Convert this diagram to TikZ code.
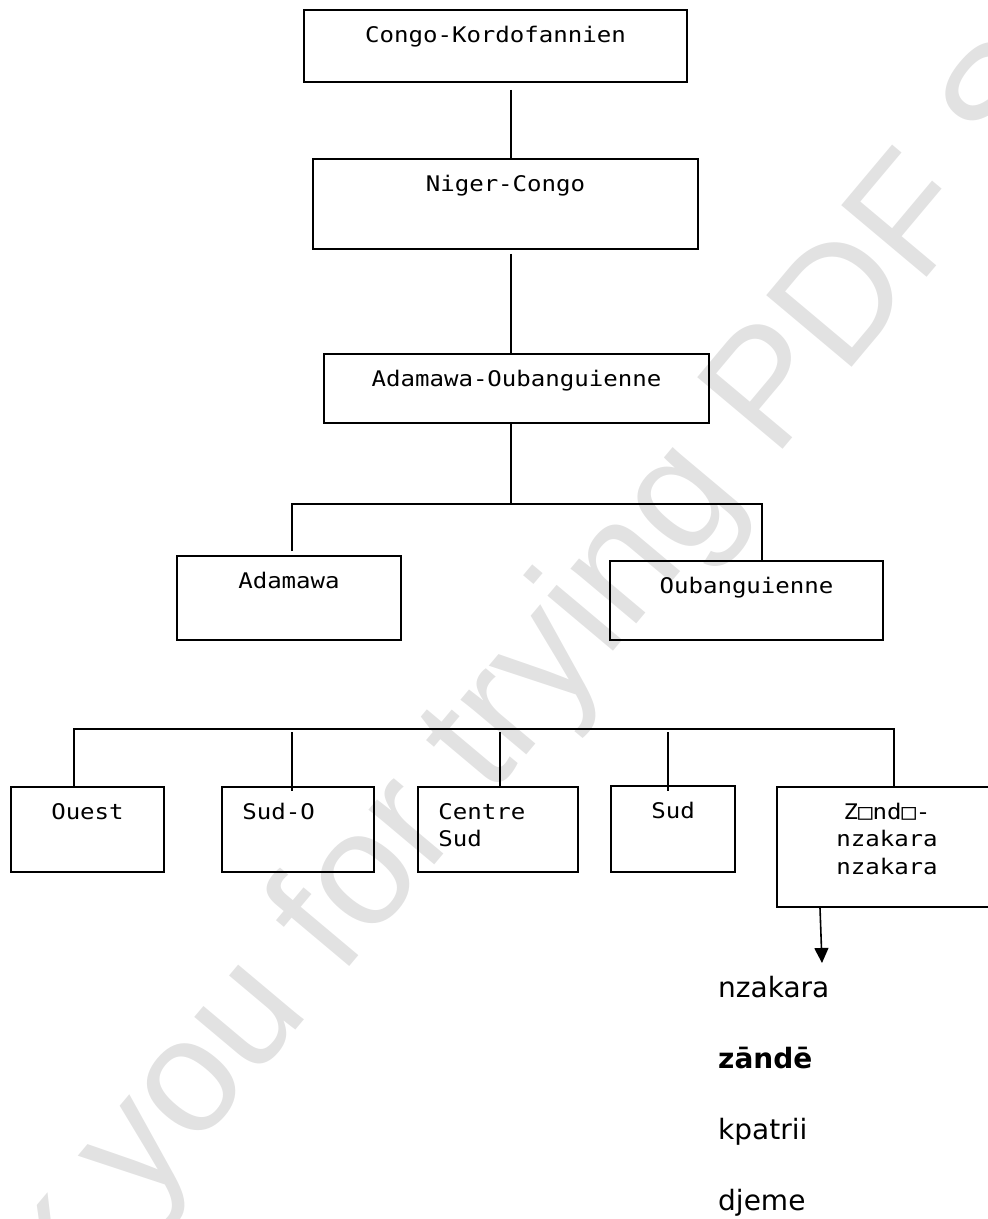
\documentclass[tikz,border=0pt]{standalone}
\usepackage{fontspec}
\usepackage{tikz}
\usetikzlibrary{calc,arrows.meta}
\newfontfamily\boxfont[FakeStretch=1.12]{DejaVu Sans Mono}
\newfontfamily\listfont{DejaVu Sans}
\newfontfamily\wmfont{Liberation Sans}
\definecolor{ink}{HTML}{000000}
\definecolor{wmgray}{HTML}{E2E2E2}
\tikzset{
  box/.style={draw=ink, line width=1.8pt, rectangle, inner sep=0pt},
  boxtxt/.style={anchor=north, inner sep=0pt, yshift=-13.75pt, align=center,
                 font=\boxfont\fontsize{21.5}{27.5}\selectfont},
  boxtxtl/.style={boxtxt, anchor=north west, align=left, xshift=21pt},
  link/.style={draw=ink, line width=1.6pt},
  arrow/.style={link, -{Triangle[width=14pt,length=15pt]}},
  lang/.style={anchor=base west, inner sep=0pt, font=\listfont\fontsize{28}{34}\selectfont},
}

\begin{document}
\begin{tikzpicture}[x=1pt,y=-1pt]
  \useasboundingbox (0,0) rectangle (988,1219);

  % watermark
  \begin{scope}
    \clip (0,0) rectangle (988,1219);
    \node[anchor=base west, inner sep=0pt, rotate=50, text=wmgray,
          font=\wmfont\fontsize{162}{162}\selectfont] (wm) at (-175,1591)
          {Thank you for trying PDF Studio};
  \end{scope}

  \node[box, minimum width=383pt, minimum height=72pt,
        label={[boxtxt]north:\strut Congo-Kordofannien}] (ck) at (495.5,46) {};
  \node[box, minimum width=385pt, minimum height=90pt,
        label={[boxtxt]north:\strut Niger-Congo}] (nc) at (505.5,204) {};
  \node[box, minimum width=385pt, minimum height=69pt,
        label={[boxtxt]north:\strut Adamawa-Oubanguienne}] (ao) at (516.5,388.5) {};

  \node[box, minimum width=224pt, minimum height=84pt,
        label={[boxtxt]north:\strut Adamawa}] (ad) at (289,598) {};
  \node[box, minimum width=273pt, minimum height=79pt,
        label={[boxtxt]north:\strut Oubanguienne}] (ou) at (746.5,600.5) {};

  \node[box, minimum width=153pt, minimum height=85pt,
        label={[boxtxt]north:\strut Ouest}] (ouest) at (87.5,829.5) {};
  \node[box, minimum width=152pt, minimum height=85pt,
        label={[boxtxtl]north west:\strut Sud-O}] (sudo) at (298,829.5) {};
  \node[box, minimum width=160pt, minimum height=85pt,
        label={[boxtxtl]north west:\strut Centre\\Sud}] (cs) at (498,829.5) {};
  \node[box, minimum width=124pt, minimum height=86pt,
        label={[boxtxt]north:\strut Sud}] (sud) at (673,829) {};
  \node[box, minimum width=220pt, minimum height=120pt,
        label={[boxtxt]north:\strut Z□nd□-\\nzakara\\nzakara}] (zn) at (887,847) {};

  \coordinate (fork) at (511,504);
  \coordinate (bus) at (894,729);
  \coordinate (tip) at (822,963);

  \draw[link] ($(ck.south)+(15.5,7)$) -- ($(nc.north)+(5.5,0)$);
  \draw[link] ($(nc.south)+(5.5,4)$) -- ($(ao.north)+(-5.5,0)$);
  \draw[link] ($(ao.south)+(-5.5,0)$) -- (fork);
  \draw[link] ($(ad.north)+(3,-4)$) |- (fork) -| ($(ou.north)+(15.5,0)$);

  \draw[link] ($(ouest.north)+(-13.5,0)$) |- (bus) -- ($(zn.north)+(7,0)$);
  \draw[link] ($(sudo.north)+(-6,-54)$) -- ($(sudo.north)+(-6,5)$);
  \draw[link] ($(cs.north)+(2,-54)$) -- ($(cs.north)+(2,0)$);
  \draw[link] ($(sud.north)+(-5,-53)$) -- ($(sud.north)+(-5,6)$);

  \draw[arrow] ($(zn.south)+(-67,0)$) -- (tip);

  \node[lang] (nzakara) at (718,997) {nzakara};
  \node[lang, font=\listfont\bfseries\fontsize{28}{34}\selectfont] (zande) at (718,1068) {zāndē};
  \node[lang] (kpatrii) at (718,1139) {kpatrii};
  \node[lang] (djeme) at (718,1210) {djeme};
\end{tikzpicture}
\end{document}
